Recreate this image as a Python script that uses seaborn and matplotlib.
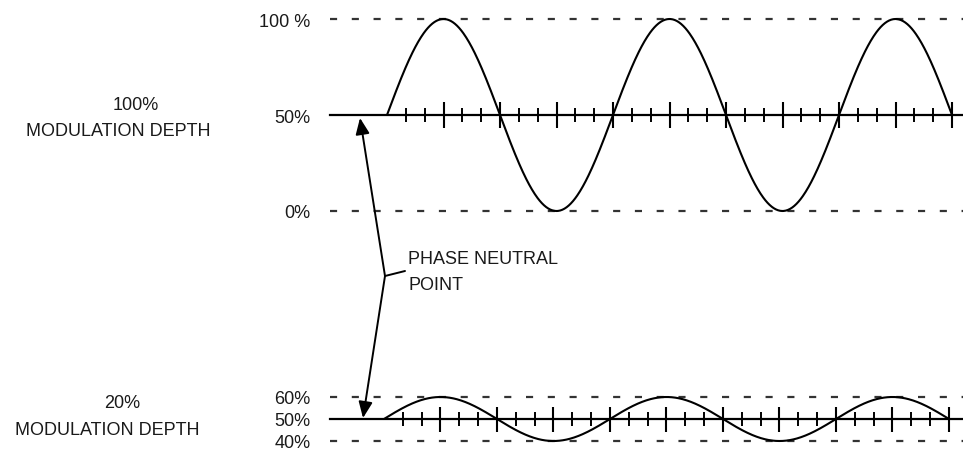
import numpy as np
import pandas as pd
import matplotlib
matplotlib.use("Agg")
import matplotlib.pyplot as plt
import seaborn as sns
from matplotlib.ticker import FixedLocator
from matplotlib.patches import FancyArrowPatch

# ---- data ----
depth_titles = ["100%", "20%"]
depth_values = [100, 20]            # modulation depth in %
top_levels = [0, 50, 100]
top_level_labels = ["0%", "50%", "100 %"]
bottom_levels = [40, 50, 60]
bottom_level_labels = ["40%", "50%", "60%"]
cycles = 2.5                        # number of cycles drawn
callout_lines = ["PHASE NEUTRAL", "POINT"]

sns.set_style("white")
plt.rcParams["font.family"] = ["Liberation Sans", "DejaVu Sans"]

W, H = 963, 452
fig = plt.figure(figsize=(W / 100, H / 100), dpi=100)


def rect(x0, y_top, x1, y_bot):
    return [x0 / W, 1 - y_bot / H, (x1 - x0) / W, (y_bot - y_top) / H]


phase = np.linspace(0, 360 * cycles, 800)


def panel(pos, depth, levels, labels, maj_len, min_len, xlim):
    ax = fig.add_axes(pos)
    df = pd.DataFrame({"phase": phase,
                       "level": 50 + depth / 2 * np.sin(np.deg2rad(phase))})
    sns.lineplot(data=df, x="phase", y="level", ax=ax, color="black",
                 lw=1.5, zorder=3)
    for ln in ax.lines:
        ln.set_clip_on(False)
    ax.set_xlim(*xlim)
    ax.set_ylim(levels[0], levels[-1])
    for lv in (levels[0], levels[-1]):
        ax.axhline(lv, color="#333333", lw=1.6, ls=(0, (3.2, 6.6)),
                   clip_on=False, zorder=1)
    for s in ("top", "right", "left"):
        ax.spines[s].set_visible(False)
    ax.spines["bottom"].set_position(("data", 50))
    ax.spines["bottom"].set_linewidth(1.6)
    ax.spines["bottom"].set_color("black")
    ax.xaxis.set_major_locator(FixedLocator(np.arange(90, 360 * cycles + 1, 90)))
    ax.xaxis.set_minor_locator(FixedLocator(
        [p for p in np.arange(30, 360 * cycles, 30) if p % 90]))
    ax.tick_params(axis="x", which="major", direction="inout", length=maj_len,
                   width=1.5, color="black", labelbottom=False, bottom=True)
    ax.tick_params(axis="x", which="minor", direction="inout", length=min_len,
                   width=1.4, color="black", labelbottom=False, bottom=True)
    ax.set_yticks(levels)
    ax.set_yticklabels(labels)
    ax.tick_params(axis="y", length=0, pad=14, labelsize=13, colors="#1a1a1a")
    ax.set_xlabel("")
    ax.set_ylabel("")
    ax.patch.set_alpha(0)
    return ax


ax_top = panel(rect(330, 20, 963, 212), depth_values[0], top_levels,
               top_level_labels, 18.7, 9.4, (-90.8, 917.5))
ax_bot = panel(rect(330, 398, 963, 442), depth_values[1], bottom_levels,
               bottom_level_labels, 18, 9.4, (-86.0, 922.3))

# ---- overlay for annotations ----
ov = fig.add_axes([0, 0, 1, 1], zorder=10)
ov.set_xlim(0, W)
ov.set_ylim(H, 0)
ov.axis("off")
ov.patch.set_alpha(0)

tk = dict(fontsize=13, color="#1a1a1a", ha="center", va="center")
ov.text(136, 106, depth_titles[0], **tk)
ov.text(118, 132, "MODULATION DEPTH", **tk)
ov.text(122, 404, depth_titles[1], **tk)
ov.text(107, 431, "MODULATION DEPTH", **tk)

ov.text(408, 260, callout_lines[0], fontsize=13, color="#1a1a1a",
        ha="left", va="center")
ov.text(408, 286, callout_lines[1], fontsize=13, color="#1a1a1a",
        ha="left", va="center")

junction = (385, 277)
for tip in [(360, 119), (363, 419)]:
    ov.add_patch(FancyArrowPatch(junction, tip,
                                 arrowstyle="-|>,head_length=0.7,head_width=0.3",
                                 mutation_scale=14, lw=1.4, color="black",
                                 shrinkA=0, shrinkB=0))
ov.plot([junction[0], 405], [junction[1], 272], color="black", lw=1.4)

fig.savefig("out.png", dpi=100)
